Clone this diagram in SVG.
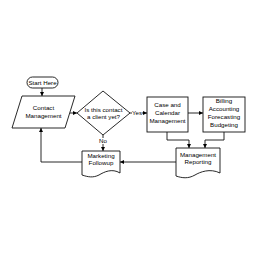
<svg xmlns="http://www.w3.org/2000/svg" width="256" height="256" viewBox="0 0 256 256">
<style>
.s{fill:#fff;stroke:#111;stroke-width:0.9}
.c{fill:none;stroke:#111;stroke-width:0.9}
text{font-family:"Liberation Sans",Arial,sans-serif;font-size:6.2px;fill:#000;text-anchor:middle}
</style>
<defs>
<marker id="a" viewBox="0 0 6 6" refX="6" refY="3" markerWidth="4" markerHeight="4" orient="auto" markerUnits="userSpaceOnUse">
<path d="M0,0 L6,3 L0,6 Z" fill="#000"/>
</marker>
</defs>
<rect width="256" height="256" fill="#fff"/>
<g id="connectors">
<line class="c" x1="42" y1="88" x2="42" y2="96" marker-end="url(#a)"/>
<line class="c" x1="70" y1="113" x2="77" y2="113" marker-end="url(#a)"/>
<line class="c" x1="130" y1="113" x2="132" y2="113"/>
<line class="c" x1="142" y1="113" x2="147" y2="113" marker-end="url(#a)"/>
<line class="c" x1="188" y1="113" x2="203" y2="113" marker-end="url(#a)"/>
<line class="c" x1="103" y1="135" x2="103" y2="138"/>
<line class="c" x1="103" y1="144" x2="103" y2="151" marker-end="url(#a)"/>
<polyline class="c" points="167,132 167,140 189,140 189,148" marker-end="url(#a)"/>
<polyline class="c" points="224,132 224,140 205,140 205,148" marker-end="url(#a)"/>
<line class="c" x1="176" y1="162" x2="120" y2="162" marker-end="url(#a)"/>
<polyline class="c" points="82,162 41,162 41,128" marker-end="url(#a)"/>
<text x="137" y="115">Yes</text>
<text x="103" y="143">No</text>
</g>
<g id="start">
<rect class="s" x="27" y="77" width="31" height="11" rx="5.5"/>
<text x="42.5" y="84.5">Start Here</text>
</g>
<g id="contact">
<polygon class="s" points="22,96 75,96 65,128 12,128"/>
<text x="43.5" y="110">Contact</text>
<text x="43.5" y="118">Management</text>
</g>
<g id="decision">
<polygon class="s" points="103,91 130,113 103,135 77,113"/>
<text x="103.5" y="112">Is this contact</text>
<text x="103.5" y="119">a client yet?</text>
</g>
<g id="case">
<rect class="s" x="147" y="97" width="41" height="35"/>
<text x="167.5" y="107">Case and</text>
<text x="167.5" y="115">Calendar</text>
<text x="167.5" y="123">Management</text>
</g>
<g id="billing">
<rect class="s" x="203" y="97" width="42" height="35"/>
<text x="224" y="103">Billing</text>
<text x="224" y="111">Accounting</text>
<text x="224" y="119">Forecasting</text>
<text x="224" y="127">Budgeting</text>
</g>
<g id="reporting">
<path class="s" d="M176,148 H220 V173 C210,168 200,172 195,175 C188,179 182,178 176,176 Z"/>
<text x="198" y="157">Management</text>
<text x="198" y="164">Reporting</text>
</g>
<g id="marketing">
<path class="s" d="M82,151 H120 V173 C112,168 104,172 99,175 C93,178 88,177 82,175 Z"/>
<text x="101" y="158">Marketing</text>
<text x="101" y="165">Followup</text>
</g>
</svg>
